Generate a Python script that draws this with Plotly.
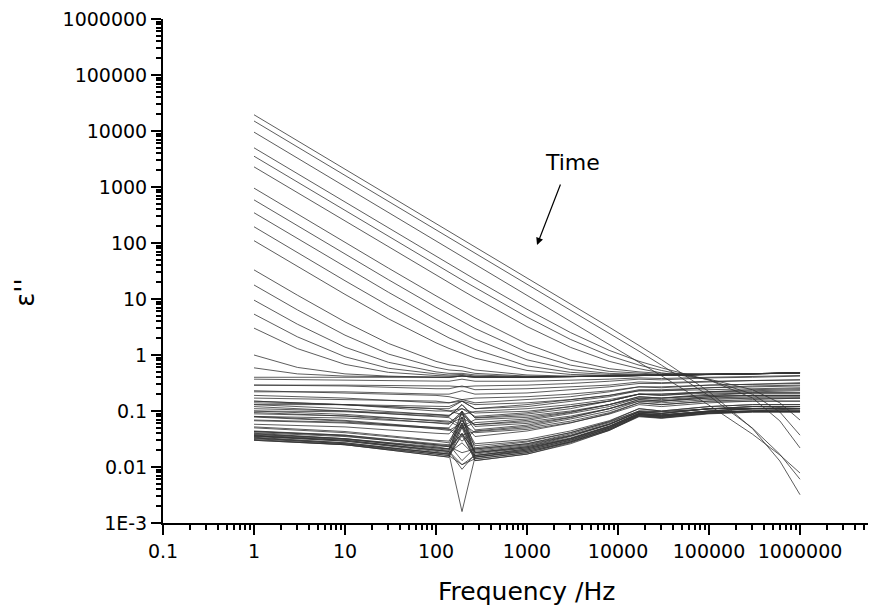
import plotly.graph_objects as go

# Measurement frequencies (Hz)
freq_band_hz = [1, 10, 100, 139, 193, 268, 1000, 3000, 8000, 17000, 30000, 100000, 300000, 1000000]
freq_diag_hz = [1, 3, 10, 30, 100, 139, 193, 268, 1000, 3000, 8000, 17000, 30000, 100000, 300000, 600000, 1000000]

# Late-time curves (bottom dense cluster), eps'' at freq_band_hz
eps_late = [
    [.030, .025, .016, .015, .040, .013, .017, .026, .045, .079, .074, .089, .095, .095],
    [.030, .025, .016, .015, .051, .013, .017, .027, .045, .081, .075, .091, .098, .098],
    [.031, .025, .017, .016, .059, .014, .018, .028, .047, .082, .077, .092, .099, .099],
    [.033, .026, .017, .016, .011, .014, .018, .028, .046, .082, .076, .091, .097, .097],
    [.034, .027, .018, .017, .0016, .015, .019, .028, .047, .083, .078, .092, .099, .099],
    [.032, .026, .018, .017, .079, .015, .019, .029, .049, .085, .080, .096, .10, .10],
    [.033, .027, .018, .017, .036, .015, .020, .030, .050, .087, .081, .097, .10, .11],
    [.036, .029, .019, .018, .027, .016, .020, .030, .049, .086, .080, .095, .10, .10],
    [.036, .030, .020, .019, .098, .016, .021, .031, .051, .087, .082, .097, .10, .10],
    [.035, .029, .020, .019, .011, .016, .021, .032, .052, .089, .084, .10, .11, .11],
    [.036, .030, .020, .019, .0091, .017, .022, .032, .053, .091, .085, .10, .11, .11],
    [.039, .032, .021, .020, .053, .018, .022, .032, .053, .090, .084, .099, .11, .11],
    [.040, .032, .022, .021, .061, .018, .023, .033, .054, .091, .086, .10, .11, .11],
    [.037, .031, .022, .021, .078, .018, .023, .035, .057, .095, .090, .11, .11, .12],
    [.038, .032, .023, .021, .040, .019, .024, .036, .058, .097, .091, .11, .12, .12],
    [.043, .036, .024, .023, .038, .020, .025, .036, .058, .096, .090, .11, .11, .11],
    [.044, .037, .025, .024, .10, .021, .026, .037, .059, .097, .091, .11, .11, .11],
    [.041, .035, .025, .023, .018, .021, .026, .039, .062, .10, .097, .11, .12, .12],
    [.043, .037, .026, .025, .013, .022, .028, .041, .065, .11, .10, .12, .13, .13],
    [.050, .041, .029, .027, .057, .024, .029, .041, .064, .10, .098, .11, .12, .12],
    [.052, .043, .030, .029, .069, .026, .031, .044, .067, .11, .10, .12, .13, .13],
]

# Intermediate-time curves, eps'' at freq_band_hz
eps_mid = [
    [.058, .052, .040, .039, .067, .035, .044, .061, .090, .14, .13, .15, .16, .17],
    [.078, .066, .048, .045, .061, .041, .047, .062, .088, .13, .12, .14, .15, .15],
    [.080, .068, .050, .048, .037, .043, .050, .066, .093, .14, .13, .15, .15, .15],
    [.067, .061, .049, .047, .029, .044, .053, .072, .10, .15, .15, .17, .18, .18],
    [.069, .063, .051, .050, .097, .046, .056, .076, .11, .16, .15, .18, .19, .19],
    [.094, .081, .061, .058, .10, .053, .060, .077, .11, .15, .14, .16, .17, .17],
    [.10, .087, .066, .063, .086, .057, .064, .081, .11, .16, .15, .17, .17, .17],
    [.080, .075, .062, .060, .075, .057, .068, .090, .12, .17, .17, .19, .21, .21],
    [.089, .082, .068, .066, .049, .062, .072, .094, .13, .18, .17, .20, .21, .21],
    [.12, .10, .079, .076, .053, .070, .077, .096, .13, .17, .16, .18, .19, .19],
    [.13, .11, .086, .082, .13, .075, .082, .10, .13, .18, .17, .19, .19, .19],
    [.10, .097, .082, .080, .13, .076, .088, .11, .15, .20, .19, .22, .23, .24],
    [.11, .10, .087, .084, .11, .080, .093, .12, .15, .20, .20, .22, .24, .25],
    [.15, .13, .10, .10, .11, .092, .099, .12, .15, .20, .19, .21, .21, .21],
    [.15, .13, .11, .10, .086, .098, .11, .13, .16, .20, .20, .22, .22, .23],
    [.13, .13, .11, .11, .15, .11, .12, .15, .18, .23, .23, .26, .27, .28],
    [.14, .13, .12, .12, .15, .11, .13, .16, .19, .24, .24, .26, .28, .29],
    [.19, .17, .14, .14, .15, .13, .14, .16, .19, .23, .23, .24, .25, .26],
]

# Earlier curves near the 0.4 plateau, eps'' at freq_band_hz
eps_early = [
    [.17, .16, .15, .14, .16, .14, .16, .18, .22, .27, .26, .29, .30, .32],
    [.23, .21, .19, .18, .16, .17, .18, .20, .23, .27, .27, .29, .30, .31],
    [.22, .22, .20, .20, .23, .20, .21, .24, .27, .31, .31, .33, .35, .36],
    [.29, .28, .25, .25, .28, .24, .25, .27, .29, .33, .32, .34, .35, .36],
    [.29, .29, .28, .28, .27, .28, .29, .31, .34, .37, .36, .39, .40, .42],
    [.37, .36, .35, .34, .37, .34, .34, .35, .37, .39, .38, .40, .41, .43],
    [.40, .40, .40, .40, .42, .40, .40, .41, .42, .43, .43, .45, .46, .48],
]

# First (conduction-dominated) curves that fall off at high frequency, eps'' at freq_diag_hz
eps_cond_high = [
    [19500, 6720, 2090, 720, 224, 163, 118, 86, 23.9, 8.21, 3.14, 1.48, 0.828, 0.221, 0.0487, 0.0128, 0.0032],
    [15100, 5210, 1620, 559, 174, 126, 91.8, 66.8, 18.6, 6.39, 2.45, 1.17, 0.66, 0.187, 0.0494, 0.0169, 0.00604],
    [9550, 3290, 1020, 353, 110, 79.7, 57.9, 42.1, 11.7, 4.04, 1.56, 0.745, 0.426, 0.127, 0.0386, 0.0164, 0.0078],
    [5010, 1730, 537, 185, 57.9, 42.2, 30.8, 22.5, 6.57, 2.52, 1.21, 0.773, 0.59, 0.357, 0.171, 0.0666, 0.0219],
    [3550, 1220, 381, 131, 41.1, 30, 21.9, 16.1, 4.76, 1.9, 0.97, 0.66, 0.53, 0.36, 0.2, 0.096, 0.037],
    [2290, 789, 246, 85, 26.7, 19.5, 14.3, 10.5, 3.22, 1.37, 0.77, 0.57, 0.48, 0.37, 0.24, 0.14, 0.069],
]

# Later conduction curves merging into the plateau, eps'' at freq_diag_hz
eps_cond_low = [
    [955, 329, 103, 35.6, 11.4, 8.36, 6.21, 4.61, 1.57, .81, .57, .5, .47, .46, .46, .47, .48],
    [589, 203, 63.5, 22.1, 7.15, 5.31, 3.99, 2.99, 1.12, .66, .51, .47, .45, .45, .46, .47, .48],
    [347, 120, 37.5, 13.2, 4.37, 3.29, 2.52, 1.93, .82, .55, .47, .45, .44, .45, .46, .47, .48],
    [195, 67.4, 21.2, 7.58, 2.63, 2.02, 1.6, 1.26, .64, .49, .45, .44, .44, .45, .46, .47, .48],
    [110, 38, 12.1, 4.43, 1.65, 1.31, 1.08, .88, .53, .45, .43, .44, .43, .45, .46, .47, .48],
    [33.1, 11.7, 3.9, 1.61, .77, .67, .62, .54, .44, .42, .42, .43, .43, .45, .46, .47, .48],
    [17.8, 6.39, 2.26, 1.04, .6, .54, .52, .47, .42, .41, .42, .43, .43, .45, .46, .47, .48],
    [9.55, 3.55, 1.38, .74, .5, .47, .47, .44, .41, .41, .42, .43, .43, .45, .46, .47, .48],
    [5.37, 2.11, .93, .58, .46, .44, .45, .42, .4, .41, .42, .43, .43, .45, .46, .47, .48],
    [3.02, 1.3, .68, .49, .43, .42, .43, .41, .4, .41, .42, .43, .43, .45, .46, .47, .48],
    [1, .6, .46, .42, .4, .4, .42, .4, .4, .41, .42, .43, .43, .45, .46, .47, .48],
    [.59, .46, .42, .41, .4, .4, .42, .4, .4, .41, .42, .43, .43, .45, .46, .47, .48],
]

x_tick_vals = [0.1, 1, 10, 100, 1000, 1e4, 1e5, 1e6]
x_tick_text = ['0.1', '1', '10', '100', '1000', '10000', '100000', '1000000']
y_tick_vals = [1e-3, 0.01, 0.1, 1, 10, 100, 1000, 1e4, 1e5, 1e6]
y_tick_text = ['1E-3', '0.01', '0.1', '1', '10', '100', '1000', '10000', '100000', '1000000']

LINE = dict(color='#333333', width=0.8)
fig = go.Figure()
for group in (eps_late, eps_mid, eps_early):
    for ys in group:
        fig.add_trace(go.Scatter(x=freq_band_hz, y=ys, mode='lines', line=LINE, hoverinfo='skip'))
for group in (eps_cond_high, eps_cond_low):
    for ys in group:
        fig.add_trace(go.Scatter(x=freq_diag_hz, y=ys, mode='lines', line=LINE, hoverinfo='skip'))

xminor = [m * 10.0 ** e for e in range(-1, 7) for m in range(2, 10)]
yminor = [m * 10.0 ** e for e in range(-3, 6) for m in range(2, 10)]
F = 'DejaVu Sans'
axis_common = dict(type='log', showgrid=False, zeroline=False, showline=True, linecolor='black', linewidth=2,
                   ticks='outside', ticklen=10, tickwidth=2, tickcolor='black', tickmode='array',
                   tickfont=dict(size=19, family=F, color='black'))
fig.update_layout(
    width=869, height=609, margin=dict(l=163, r=1, t=19, b=86),
    plot_bgcolor='white', paper_bgcolor='white', showlegend=False,
    font=dict(family=F, color='black'),
    xaxis=dict(axis_common, range=[-1, 6.747], tickvals=x_tick_vals, ticktext=x_tick_text,
               minor=dict(ticks='outside', ticklen=5, tickwidth=1.5, tickcolor='black', tickmode='array',
                          tickvals=xminor, showgrid=False)),
    yaxis=dict(axis_common, range=[-3, 6], tickvals=y_tick_vals, ticktext=y_tick_text,
               minor=dict(ticks='outside', ticklen=5, tickwidth=1.5, tickcolor='black', tickmode='array',
                          tickvals=yminor, showgrid=False)),
    annotations=[
        dict(text='Frequency /Hz', xref='paper', yref='paper', x=0.516, y=-0.135, showarrow=False,
             font=dict(size=25, family=F), xanchor='center', yanchor='middle'),
        dict(text="ε''", xref='paper', yref='paper', x=-0.1957, y=0.457, showarrow=False, textangle=-90,
             font=dict(size=26, family=F), xanchor='center', yanchor='middle'),
        dict(text='Time', xref='x', yref='y', x=3.495, y=3.429, showarrow=False, font=dict(size=22, family=F),
             xanchor='center', yanchor='middle'),
        dict(text='', xref='x', yref='y', x=3.11, y=1.964, ax=24, ay=-62, showarrow=True, arrowhead=2,
             arrowsize=1.2, arrowwidth=1.2, arrowcolor='black'),
    ],
)
fig.write_html("out.html")
